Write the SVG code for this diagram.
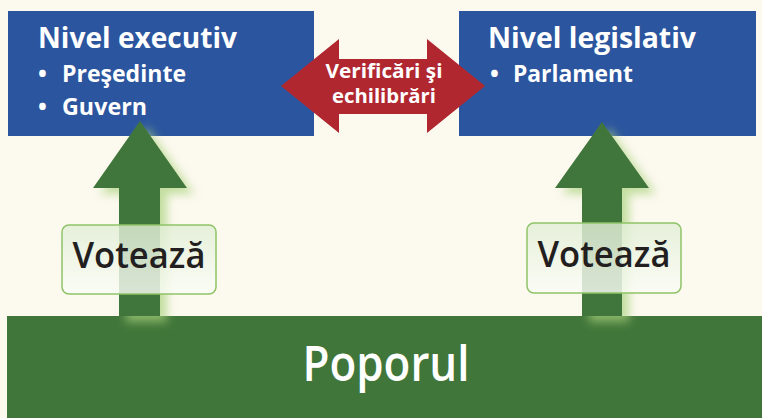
<svg xmlns="http://www.w3.org/2000/svg" width="762" height="418" viewBox="0 0 762 418">
<style>
.bg{fill:#fcf9ef}
.box{fill:#2b559e}
.green{fill:#41763a}
.red{fill:#b0272f}
.t{font-family:"Open Sans","Liberation Sans",sans-serif;font-weight:700;fill:#fff}
.h{font-size:29px}
.b{font-size:23.5px}
.vt{font-family:"Open Sans","Liberation Sans",sans-serif;font-weight:600;font-size:36px;fill:#231f20}
.vbox{fill:url(#vg);stroke:#8fc367;stroke-width:1.5}
</style>
<defs>
<linearGradient id="vg" x1="0" y1="0" x2="0" y2="1">
<stop offset="0" stop-color="#e1eed5" stop-opacity="0.82"/>
<stop offset="1" stop-color="#fbfdf7" stop-opacity="0.82"/>
</linearGradient>
<filter id="glow" x="-40%" y="-20%" width="180%" height="140%">
<feGaussianBlur in="SourceAlpha" stdDeviation="5" result="b"/>
<feOffset in="b" dx="7" dy="6" result="o"/>
<feFlood flood-color="#a9d27c" flood-opacity="0.7"/>
<feComposite in2="o" operator="in" result="s"/>
<feMerge><feMergeNode in="s"/><feMergeNode in="SourceGraphic"/></feMerge>
</filter>
</defs>
<rect class="bg" x="0" y="0" width="762" height="418"/>

<g id="executiv">
<rect class="box" x="8" y="11" width="306" height="125"/>
<text class="t h" x="38" y="48" textLength="199" lengthAdjust="spacingAndGlyphs">Nivel executiv</text>
<text class="t b" x="38" y="82">•</text>
<text class="t b" x="62" y="82" textLength="124" lengthAdjust="spacingAndGlyphs">Preşedinte</text>
<text class="t b" x="38" y="115">•</text>
<text class="t b" x="62" y="115" textLength="85" lengthAdjust="spacingAndGlyphs">Guvern</text>
</g>

<g id="legislativ">
<rect class="box" x="459" y="11" width="297" height="125"/>
<text class="t h" x="488" y="48" textLength="208" lengthAdjust="spacingAndGlyphs">Nivel legislativ</text>
<text class="t b" x="490" y="82">•</text>
<text class="t b" x="513" y="82" textLength="120" lengthAdjust="spacingAndGlyphs">Parlament</text>
</g>

<g id="poporul">
<rect class="green" x="7" y="316" width="755" height="102"/>
<text x="386" y="381" text-anchor="middle" font-family="'Open Sans','Liberation Sans',sans-serif" font-weight="600" font-size="48" fill="#fff" textLength="167" lengthAdjust="spacingAndGlyphs">Poporul</text>
</g>

<g id="connectors">
<g id="checks">
<polygon class="red" points="281,86 339,39 339,59 427,59 427,39 485,86 427,133 427,114 339,114 339,133"/>
<text class="t" font-size="20" x="384" y="78" text-anchor="middle" textLength="117" lengthAdjust="spacingAndGlyphs">Verificări şi</text>
<text class="t" font-size="20" x="384" y="103" text-anchor="middle" textLength="104" lengthAdjust="spacingAndGlyphs">echilibrări</text>
</g>
<polygon class="green" filter="url(#glow)" points="140,121 187,188 160,188 160,316 119,316 119,188 93,188"/>
<polygon class="green" filter="url(#glow)" points="602,122 649,188 622,188 622,316 582,316 582,188 555,188"/>
</g>

<g id="voteaza-left">
<rect class="vbox" x="62" y="225" width="154" height="69" rx="7"/>
<text class="vt" x="139" y="268" text-anchor="middle" textLength="133" lengthAdjust="spacingAndGlyphs">Votează</text>
</g>
<g id="voteaza-right">
<rect class="vbox" x="527" y="223" width="154" height="70" rx="7"/>
<text class="vt" x="604" y="267" text-anchor="middle" textLength="133" lengthAdjust="spacingAndGlyphs">Votează</text>
</g>
</svg>
